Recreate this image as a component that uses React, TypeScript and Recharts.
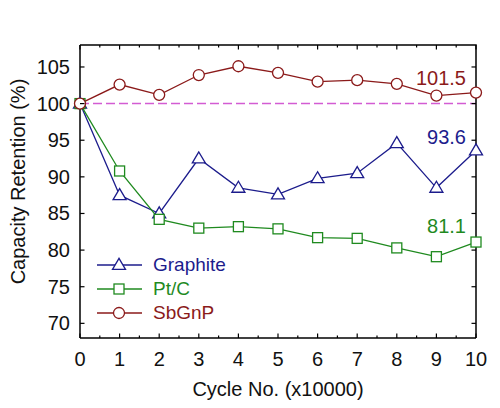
import React from "react";
import { LineChart, Line, XAxis, YAxis, ReferenceLine, Legend } from "recharts";

// cycle number (x10000)
const cycles = [0, 1, 2, 3, 4, 5, 6, 7, 8, 9, 10];
const graphite = [100, 87.5, 85.0, 92.5, 88.5, 87.6, 89.8, 90.5, 94.6, 88.5, 93.6];
const ptc = [100, 90.8, 84.2, 83.0, 83.2, 82.9, 81.7, 81.6, 80.3, 79.1, 81.1];
const sbgnp = [100, 102.6, 101.2, 103.9, 105.1, 104.2, 103.0, 103.2, 102.7, 101.1, 101.5];

const xTicks = [0, 0.5, 1, 1.5, 2, 2.5, 3, 3.5, 4, 4.5, 5, 5.5, 6, 6.5, 7, 7.5, 8, 8.5, 9, 9.5, 10];
const yTicks = [70, 75, 80, 85, 90, 95, 100, 105];
const xDomain = [0, 10];
const yDomain = [68, 108];

const W = 500;
const H = 408;
const MARGIN = { top: 45, right: 24, bottom: 0, left: 0 };
const Y_AXIS_W = 80;
const X_AXIS_H = 70;
const PLOT_W = W - Y_AXIS_W - MARGIN.right;
const PLOT_H = H - MARGIN.top - X_AXIS_H;

const FONT = "Arial, 'Liberation Sans', sans-serif";
const GRAPHITE = "#1c1c8c";
const PTC = "#1f8a1f";
const SBGNP = "#8b1a1a";

const data = cycles.map((c, i) => ({
  cycle: c,
  graphite: graphite[i],
  ptc: ptc[i],
  sbgnp: sbgnp[i],
}));

type Shape = "triangle" | "square" | "circle";

const series: { key: string; name: string; color: string; shape: Shape; labelDy: number }[] = [
  { key: "graphite", name: "Graphite", color: GRAPHITE, shape: "triangle", labelDy: -6 },
  { key: "ptc", name: "Pt/C", color: PTC, shape: "square", labelDy: -9 },
  { key: "sbgnp", name: "SbGnP", color: SBGNP, shape: "circle", labelDy: -8 },
];

function Marker({ cx, cy, shape, color }: { cx: number; cy: number; shape: Shape; color: string }) {
  if (shape === "triangle") {
    const h = 11;
    const w = 13;
    const pts = `${cx},${cy - h * 0.6} ${cx - w / 2},${cy + h * 0.4} ${cx + w / 2},${cy + h * 0.4}`;
    return <polygon points={pts} fill="#fff" stroke={color} strokeWidth={1.3} />;
  }
  if (shape === "square") {
    return <rect x={cx - 5} y={cy - 5} width={10} height={10} fill="#fff" stroke={color} strokeWidth={1.3} />;
  }
  return <circle cx={cx} cy={cy} r={5.5} fill="#fff" stroke={color} strokeWidth={1.3} />;
}

// bottom tick: inward mark at bottom and mirrored at the top edge, label on integers only
function BottomTick(props: any) {
  const { x, y, payload } = props;
  const v = payload.value;
  const major = Number.isInteger(v);
  const len = major ? 4.5 : 2.5;
  const top = y - PLOT_H;
  return (
    <g>
      <line x1={x} x2={x} y1={y} y2={y - len} stroke="#000" strokeWidth={1.2} />
      <line x1={x} x2={x} y1={top} y2={top + len} stroke="#000" strokeWidth={1.2} />
      {major && (
        <text x={x} y={y + 28} textAnchor="middle" fontSize={20} fill="#111" fontFamily={FONT}>
          {v}
        </text>
      )}
    </g>
  );
}

function LeftTick(props: any) {
  const { x, y, payload } = props;
  const right = x + PLOT_W;
  return (
    <g>
      <line x1={x} x2={x + 4.5} y1={y} y2={y} stroke="#000" strokeWidth={1.2} />
      <line x1={right} x2={right - 4.5} y1={y} y2={y} stroke="#000" strokeWidth={1.2} />
      <text x={x - 10} y={y + 7} textAnchor="end" fontSize={20} fill="#111" fontFamily={FONT}>
        {payload.value}
      </text>
    </g>
  );
}

function LegendBox() {
  return (
    <div style={{ fontFamily: FONT }}>
      {series.map((s) => (
        <div key={s.key} style={{ display: "flex", alignItems: "center", height: 24 }}>
          <svg width={56} height={24}>
            <line x1={0} x2={45} y1={12} y2={12} stroke={s.color} strokeWidth={1.3} />
            <Marker cx={22} cy={12} shape={s.shape} color={s.color} />
          </svg>
          <span style={{ color: s.color, fontSize: 19 }}>{s.name}</span>
        </div>
      ))}
    </div>
  );
}

export default function App() {
  const axisLine = { stroke: "#000", strokeWidth: 1.5 };
  return (
    <div style={{ position: "absolute", left: 0, top: 0, background: "#fff" }}>
      <LineChart width={W} height={H} data={data} margin={MARGIN}>
        <XAxis
          dataKey="cycle"
          type="number"
          domain={xDomain}
          ticks={xTicks}
          interval={0}
          height={X_AXIS_H}
          tickSize={0}
          tickMargin={0}
          axisLine={axisLine}
          tick={<BottomTick />}
          label={{
            content: (p: any) => {
              const { x, y, width } = p.viewBox;
              return (
                <g>
                  {/* top and right edges of the frame */}
                  <path
                    d={`M${x} ${y - PLOT_H} H${x + width} V${y}`}
                    fill="none"
                    stroke="#000"
                    strokeWidth={1.5}
                  />
                  <text
                    x={x + width / 2}
                    y={y + 58}
                    textAnchor="middle"
                    fontSize={20}
                    fill="#111"
                    fontFamily={FONT}
                  >
                    Cycle No. (x10000)
                  </text>
                </g>
              );
            },
          }}
        />
        <YAxis
          type="number"
          domain={yDomain}
          ticks={yTicks}
          interval={0}
          width={Y_AXIS_W}
          tickSize={0}
          tickMargin={0}
          axisLine={axisLine}
          tick={<LeftTick />}
          label={{
            content: (p: any) => {
              const cx = p.viewBox.x + 18;
              const cy = p.viewBox.y + p.viewBox.height / 2 - 10;
              return (
                <text
                  x={cx}
                  y={cy}
                  transform={`rotate(-90 ${cx} ${cy})`}
                  textAnchor="middle"
                  dominantBaseline="central"
                  fontSize={20}
                  fill="#111"
                  fontFamily={FONT}
                >
                  Capacity Retention (%)
                </text>
              );
            },
          }}
        />
        <ReferenceLine y={100} stroke="#d35cd3" strokeWidth={1.5} strokeDasharray="9 4" />
        {series.map((s) => (
          <Line
            key={s.key}
            dataKey={s.key}
            name={s.name}
            stroke={s.color}
            strokeWidth={1.3}
            isAnimationActive={false}
            dot={(p: any) => (
              <Marker key={`${s.key}-${p.index}`} cx={p.cx} cy={p.cy} shape={s.shape} color={s.color} />
            )}
            label={(p: any) =>
              p.index === cycles.length - 1 ? (
                <text
                  key={`${s.key}-label`}
                  x={p.x - 10}
                  y={p.y + s.labelDy}
                  textAnchor="end"
                  fontSize={20}
                  fill={s.color}
                  fontFamily={FONT}
                >
                  {p.value}
                </text>
              ) : (
                <g key={`${s.key}-l${p.index}`} />
              )
            }
          />
        ))}
        <Legend
          layout="horizontal"
          verticalAlign="middle"
          align="center"
          content={() => <LegendBox />}
          wrapperStyle={{ left: 97, top: 253, width: "auto" }}
        />
      </LineChart>
    </div>
  );
}
